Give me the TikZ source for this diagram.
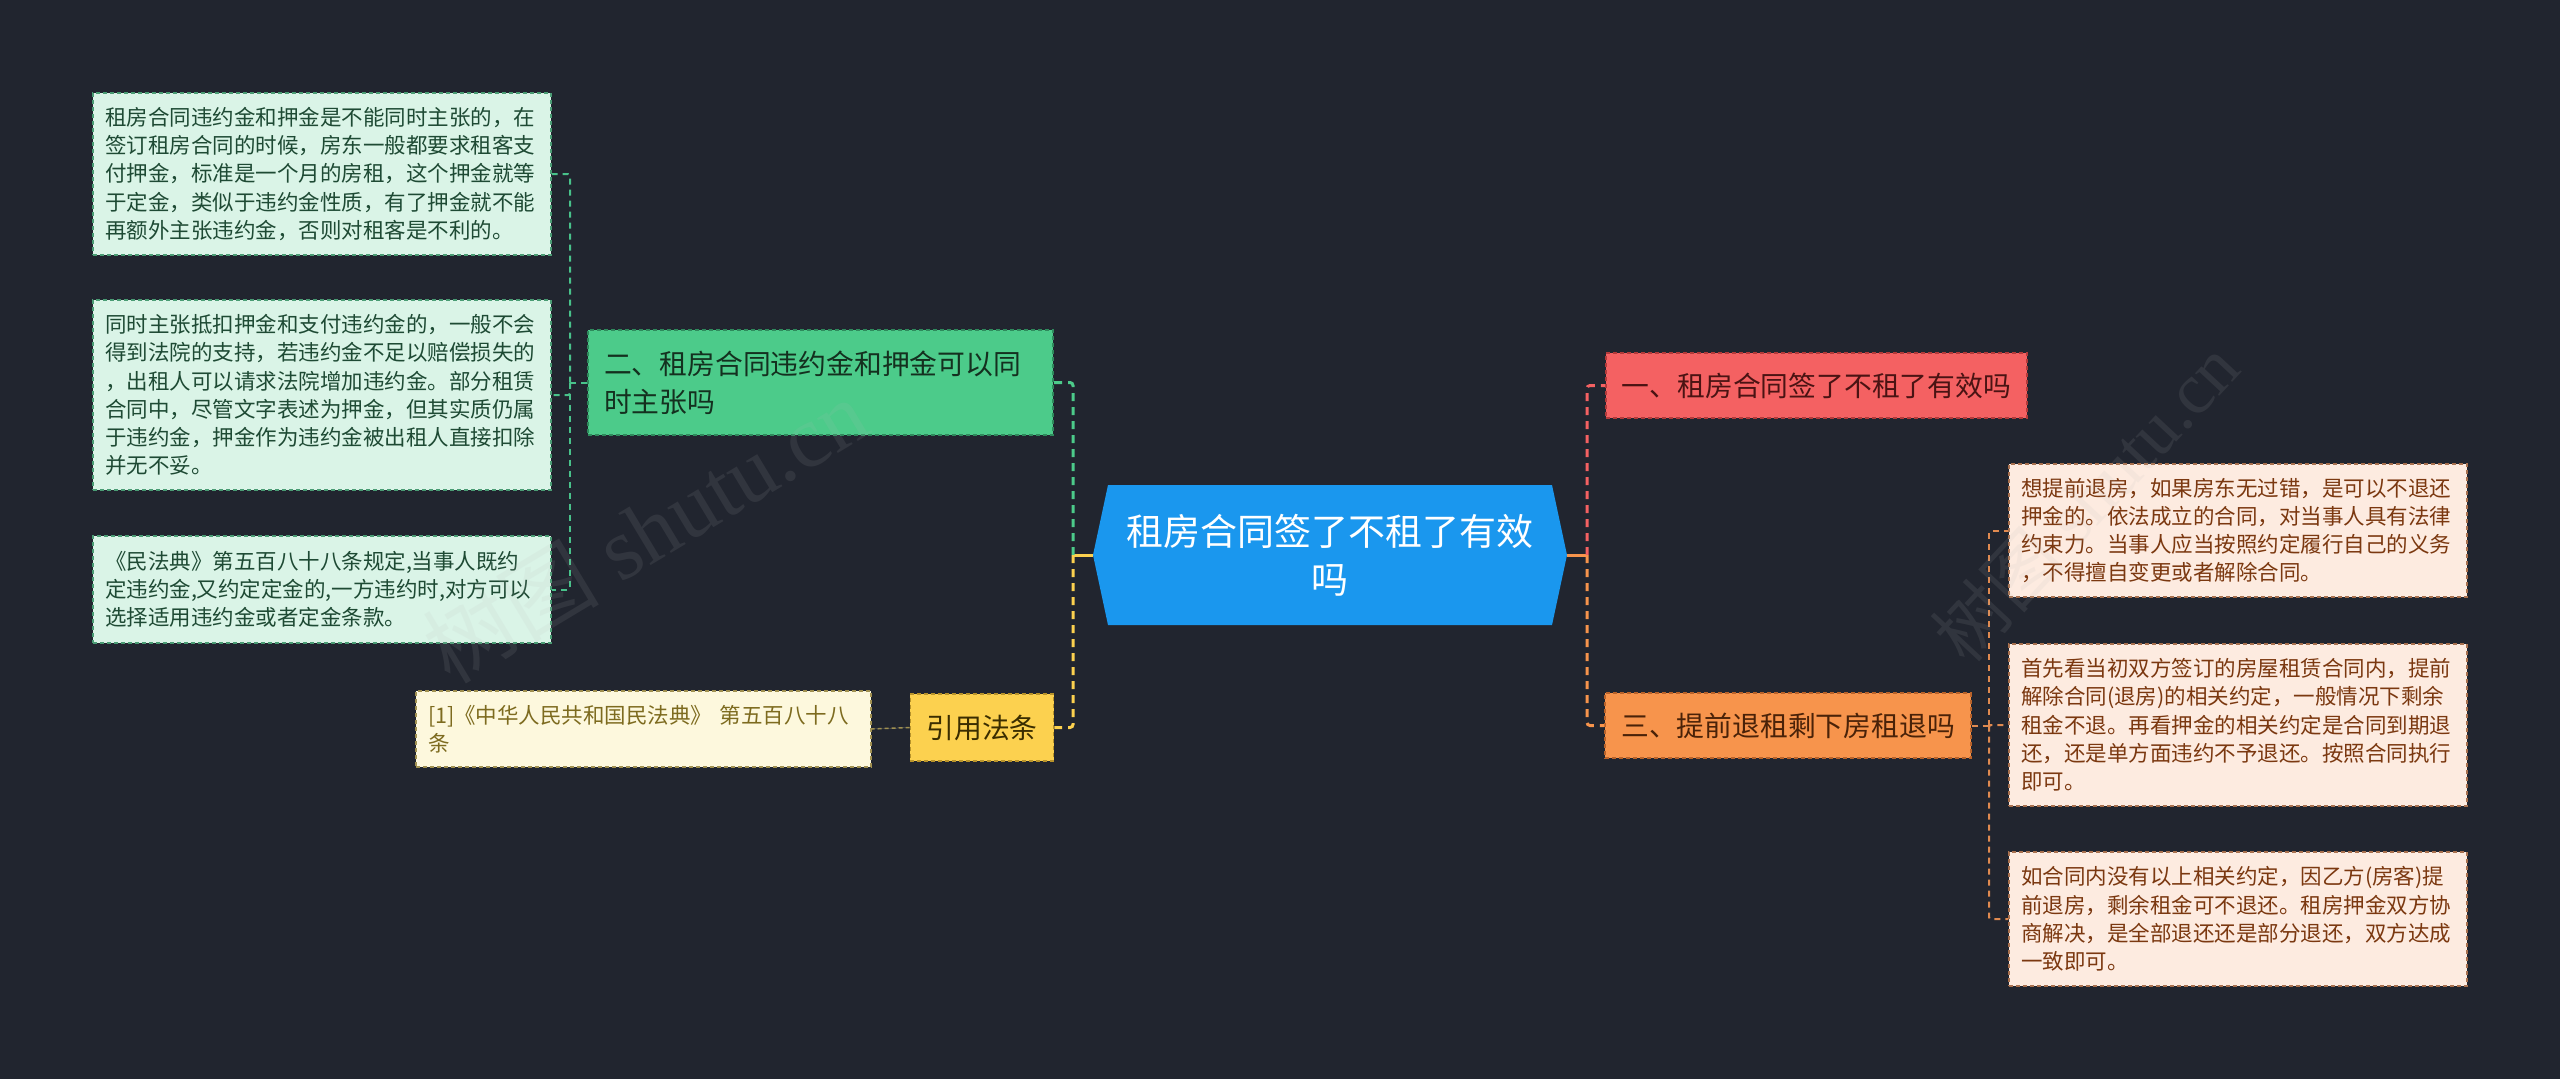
\documentclass[tikz,border=0pt]{standalone}
\usepackage{fontspec}
\newfontfamily\cjk{Noto Sans CJK SC}
\newfontfamily\wmfont{Liberation Serif}
\usetikzlibrary{positioning}
\definecolor{bg}{HTML}{21252F}
\definecolor{mintfill}{HTML}{DAF4E7}
\definecolor{minttext}{HTML}{1E4A34}
\definecolor{mintline}{HTML}{4A9C74}
\definecolor{greenfill}{HTML}{4CCB8A}
\definecolor{greenline}{HTML}{2E8A5C}
\definecolor{greentext}{HTML}{14301F}
\definecolor{bluefill}{HTML}{1A97EE}
\definecolor{redfill}{HTML}{F46162}
\definecolor{redline}{HTML}{B23A3A}
\definecolor{redtext}{HTML}{4A1313}
\definecolor{orangefill}{HTML}{F7944C}
\definecolor{orangeline}{HTML}{B8622A}
\definecolor{orangetext}{HTML}{4A2208}
\definecolor{peachfill}{HTML}{FDEBE0}
\definecolor{peachtext}{HTML}{7B3810}
\definecolor{peachline}{HTML}{A8704E}
\definecolor{yellowfill}{HTML}{FCD14F}
\definecolor{yellowline}{HTML}{B8932A}
\definecolor{yellowtext}{HTML}{3A2D00}
\definecolor{creamfill}{HTML}{FDF8DD}
\definecolor{creamtext}{HTML}{7D6B1F}
\definecolor{creamline}{HTML}{A09050}
\definecolor{leafgreen}{HTML}{48C28A}
\definecolor{leaforange}{HTML}{E08A50}
\definecolor{leafcream}{HTML}{F0E0A6}
\tikzset{
  every node/.style={font=\cjk},
  leaffont/.style={font=\cjk\fontsize{21.5}{28.3}\selectfont},
  branchfont/.style={font=\cjk\fontsize{27.8}{38}\selectfont},
  boxbase/.style={line width=1.5pt, dash pattern=on 4pt off 3pt, inner xsep=12pt, inner ysep=0pt, align=left},
  leafmint/.style={boxbase, leaffont, fill=mintfill, draw=mintline, text=minttext, minimum width=458pt, text width=434pt},
  leafpeach/.style={boxbase, leaffont, fill=peachfill, draw=peachline, text=peachtext, minimum width=458pt, text width=434pt},
  leafcream/.style={boxbase, leaffont, fill=creamfill, draw=creamline, text=creamtext, minimum width=455pt, text width=431pt},
  branchbox/.style={boxbase, branchfont, inner xsep=16pt},
  mainlink/.style={line width=3pt, dash pattern=on 8pt off 6pt, rounded corners=3pt},
  stublink/.style={line width=3pt},
  leaflink/.style={line width=2pt, dash pattern=on 6pt off 5pt, rounded corners=2pt},
  watermark/.style={text=gray!55, opacity=0.11, font=\wmfont\fontsize{88}{88}\selectfont}
}
\begin{document}
\begin{tikzpicture}[x=1pt, y=-1pt]
\useasboundingbox[fill=bg] (0,0) rectangle (2560,1079);

% central topic
\fill[bluefill] (1093,555) -- (1108,485) -- (1552,485) -- (1567,555) -- (1552,625) -- (1108,625) -- cycle;
\node[minimum width=474pt, minimum height=140pt, inner sep=0pt, align=center, text=white,
      font=\cjk\fontsize{37}{48}\selectfont] (root) at (1330,555) {租房合同签了不租了有效\\吗};

% branch nodes
\node[branchbox, fill=greenfill, draw=greenline, text=greentext, minimum width=465pt, minimum height=105pt, text width=433pt] (b2) at (820.5,382.5)
  {二、租房合同违约金和押金可以同\\时主张吗};
\node[branchbox, fill=yellowfill, draw=yellowline, text=yellowtext, minimum width=142pt, minimum height=67pt, align=center] (cite) at (982,727.5) {引用法条};
\node[branchbox, fill=redfill, draw=redline, text=redtext, minimum width=421pt, minimum height=65pt, align=center] (b1) at (1816.5,385.5) {一、租房合同签了不租了有效吗};
\node[branchbox, fill=orangefill, draw=orangeline, text=orangetext, minimum width=364pt, minimum height=65pt, align=center] (b3) at (1788,725.5) {三、提前退租剩下房租退吗};

% left leaves
\node[leafmint, minimum height=162pt] (l1) at (322,174) {租房合同违约金和押金是不能同时主张的，在\\签订租房合同的时候，房东一般都要求租客支\\付押金，标准是一个月的房租，这个押金就等\\于定金，类似于违约金性质，有了押金就不能\\再额外主张违约金，否则对租客是不利的。};
\node[leafmint, minimum height=190pt] (l2) at (322,395) {同时主张抵扣押金和支付违约金的，一般不会\\得到法院的支持，若违约金不足以赔偿损失的\\，出租人可以请求法院增加违约金。部分租赁\\合同中，尽管文字表述为押金，但其实质仍属\\于违约金，押金作为违约金被出租人直接扣除\\并无不妥。};
\node[leafmint, minimum height=107pt] (l3) at (322,589.5) {《民法典》第五百八十八条规定,当事人既约\\定违约金,又约定定金的,一方违约时,对方可以\\选择适用违约金或者定金条款。};
\node[leafcream, minimum height=76pt] (c1) at (643.5,729) {[1]《中华人民共和国民法典》 第五百八十八\\条};

% right leaves
\node[leafpeach, minimum height=133pt] (r1) at (2238,530.5) {想提前退房，如果房东无过错，是可以不退还\\押金的。依法成立的合同，对当事人具有法律\\约束力。当事人应当按照约定履行自己的义务\\，不得擅自变更或者解除合同。};
\node[leafpeach, minimum height=162pt] (r2) at (2238,725) {首先看当初双方签订的房屋租赁合同内，提前\\解除合同(退房)的相关约定，一般情况下剩余\\租金不退。再看押金的相关约定是合同到期退\\还，还是单方面违约不予退还。按照合同执行\\即可。};
\node[leafpeach, minimum height=134pt] (r3) at (2238,919) {如合同内没有以上相关约定，因乙方(房客)提\\前退房，剩余租金可不退还。租房押金双方协\\商解决，是全部退还还是部分退还，双方达成\\一致即可。};

% junction coordinates
\coordinate (jl) at (1073,555);
\coordinate (jr) at (1587,555);
\coordinate (jl2) at (570,382.5);
\coordinate (jr3) at (1989,725.5);

% main connectors
\draw[stublink, yellowfill] (root.west) -- (jl);
\draw[mainlink, greenfill] (jl) |- (b2.east);
\draw[mainlink, yellowfill] (jl) |- (cite.east);
\draw[stublink, orangefill] (root.east) -- (jr);
\draw[mainlink, redfill] (jr) |- (b1.west);
\draw[mainlink, orangefill] (jr) |- (b3.west);

% leaf connectors
\draw[leaflink, leafgreen] (b2.west) -- (jl2);
\draw[leaflink, leafgreen] (jl2) |- (l1.east);
\draw[leaflink, leafgreen] (jl2) |- (l2.east);
\draw[leaflink, leafgreen] (jl2) |- (l3.east);
\draw[leaflink, leafcream] (cite.west) -- (c1.east);
\draw[leaflink, leaforange] (b3.east) -- (jr3);
\draw[leaflink, leaforange] (jr3) |- (r1.west);
\draw[leaflink, leaforange] (jr3) |- (r2.west);
\draw[leaflink, leaforange] (jr3) |- (r3.west);

% watermarks
\node[watermark, rotate=31] (wm1) at (645,530) {{\cjk 树图} shutu.cn};
\node[watermark, rotate=47, font=\wmfont\fontsize{72}{72}\selectfont] (wm2) at (2085,500) {{\cjk 树图} shutu.cn};
\end{tikzpicture}
\end{document}
